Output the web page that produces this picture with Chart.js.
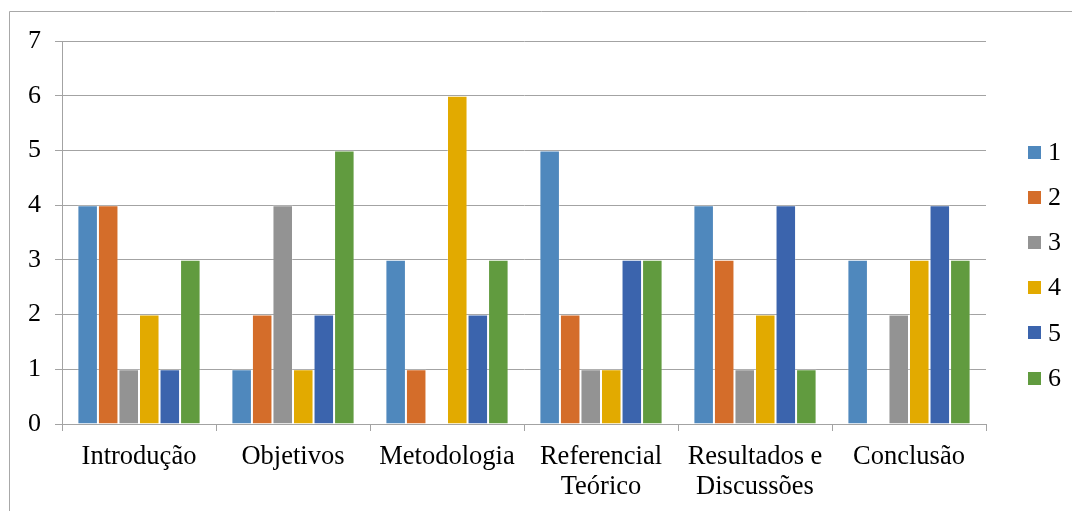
<!DOCTYPE html>
<html>
<head>
<meta charset="utf-8">
<script src="https://cdn.jsdelivr.net/npm/chart.js@4.4.1/dist/chart.umd.min.js"></script>
<style>
  html, body { margin: 0; padding: 0; background: #fff; overflow: hidden; }
  canvas { display: block; }
</style>
</head>
<body>
<canvas id="c" width="1072" height="511"></canvas>
<script>
// Sections of the work and the scores given by each evaluator (1..6)
const categories = ['Introdução', 'Objetivos', 'Metodologia', ['Referencial', 'Teórico'], ['Resultados e', 'Discussões'], 'Conclusão'];
const seriesNames = ['1', '2', '3', '4', '5', '6'];
const s1 = [4, 1, 3, 5, 4, 3];
const s2 = [4, 2, 1, 2, 3, 0];
const s3 = [1, 4, 0, 1, 1, 2];
const s4 = [2, 1, 6, 1, 2, 3];
const s5 = [1, 2, 2, 3, 4, 4];
const s6 = [3, 5, 3, 3, 1, 3];
const yTicks = [0, 1, 2, 3, 4, 5, 6, 7];

const seriesValues = [s1, s2, s3, s4, s5, s6];
const palette = ['#4F88BD', '#D46D2A', '#939393', '#E2AA00', '#3B64AD', '#619B3F'];
const FONT = '"Liberation Serif", "Times New Roman", serif';
const GRID = '#A3A3A3';

// Page background and the outer frame
const framePlugin = {
  id: 'frame',
  beforeDraw(chart) {
    const ctx = chart.ctx;
    ctx.save();
    ctx.fillStyle = '#fff';
    ctx.fillRect(0, 0, chart.width, chart.height);
    ctx.strokeStyle = '#A8A8A8';
    ctx.lineWidth = 1;
    ctx.beginPath();
    ctx.moveTo(9.5, chart.height + 2);
    ctx.lineTo(9.5, 11.5);
    ctx.lineTo(chart.width + 2, 11.5);
    ctx.stroke();
    ctx.restore();
  }
};

// Vertical legend on the right side
const legendPlugin = {
  id: 'sideLegend',
  afterDraw(chart) {
    const ctx = chart.ctx;
    ctx.save();
    ctx.font = '26px ' + FONT;
    ctx.textBaseline = 'middle';
    ctx.textAlign = 'left';
    chart.data.datasets.forEach((ds, i) => {
      const cy = 152 + i * 45.2;
      ctx.fillStyle = ds.backgroundColor;
      ctx.fillRect(1028, Math.round(cy - 6.5), 13, 13);
      ctx.fillStyle = '#000';
      ctx.fillText(ds.label, 1048, cy + 1);
    });
    ctx.restore();
  }
};

new Chart(document.getElementById('c'), {
  type: 'bar',
  data: {
    labels: categories,
    datasets: seriesNames.map((name, i) => ({
      label: name,
      data: seriesValues[i],
      backgroundColor: palette[i],
      borderColor: 'rgba(255,255,255,0.25)',
      borderWidth: 1,
      categoryPercentage: 0.8,
      barPercentage: 1.0
    }))
  },
  options: {
    responsive: false,
    animation: false,
    layout: { padding: { left: 0, right: 86, top: 41, bottom: 0 } },
    plugins: {
      legend: { display: false },
      tooltip: { enabled: false }
    },
    scales: {
      x: {
        offset: true,
        grid: {
          offset: true,
          drawOnChartArea: false,
          drawTicks: true,
          tickLength: 7,
          color: GRID
        },
        border: { display: true, color: GRID, width: 1 },
        ticks: {
          color: '#000',
          font: { family: FONT, size: 26.5, lineHeight: 30 / 26.5 },
          padding: 11,
          maxRotation: 0,
          autoSkip: false
        },
        afterFit(scale) { scale.height = 87; }
      },
      y: {
        min: 0,
        max: 7,
        afterBuildTicks(scale) { scale.ticks = yTicks.map(v => ({ value: v })); },
        grid: {
          color: GRID,
          drawTicks: true,
          tickLength: 7
        },
        border: { display: true, color: GRID, width: 1 },
        ticks: {
          color: '#000',
          font: { family: FONT, size: 26 },
          padding: 14
        },
        afterFit(scale) { scale.width = 62; }
      }
    }
  },
  plugins: [framePlugin, legendPlugin]
});
</script>
</body>
</html>
